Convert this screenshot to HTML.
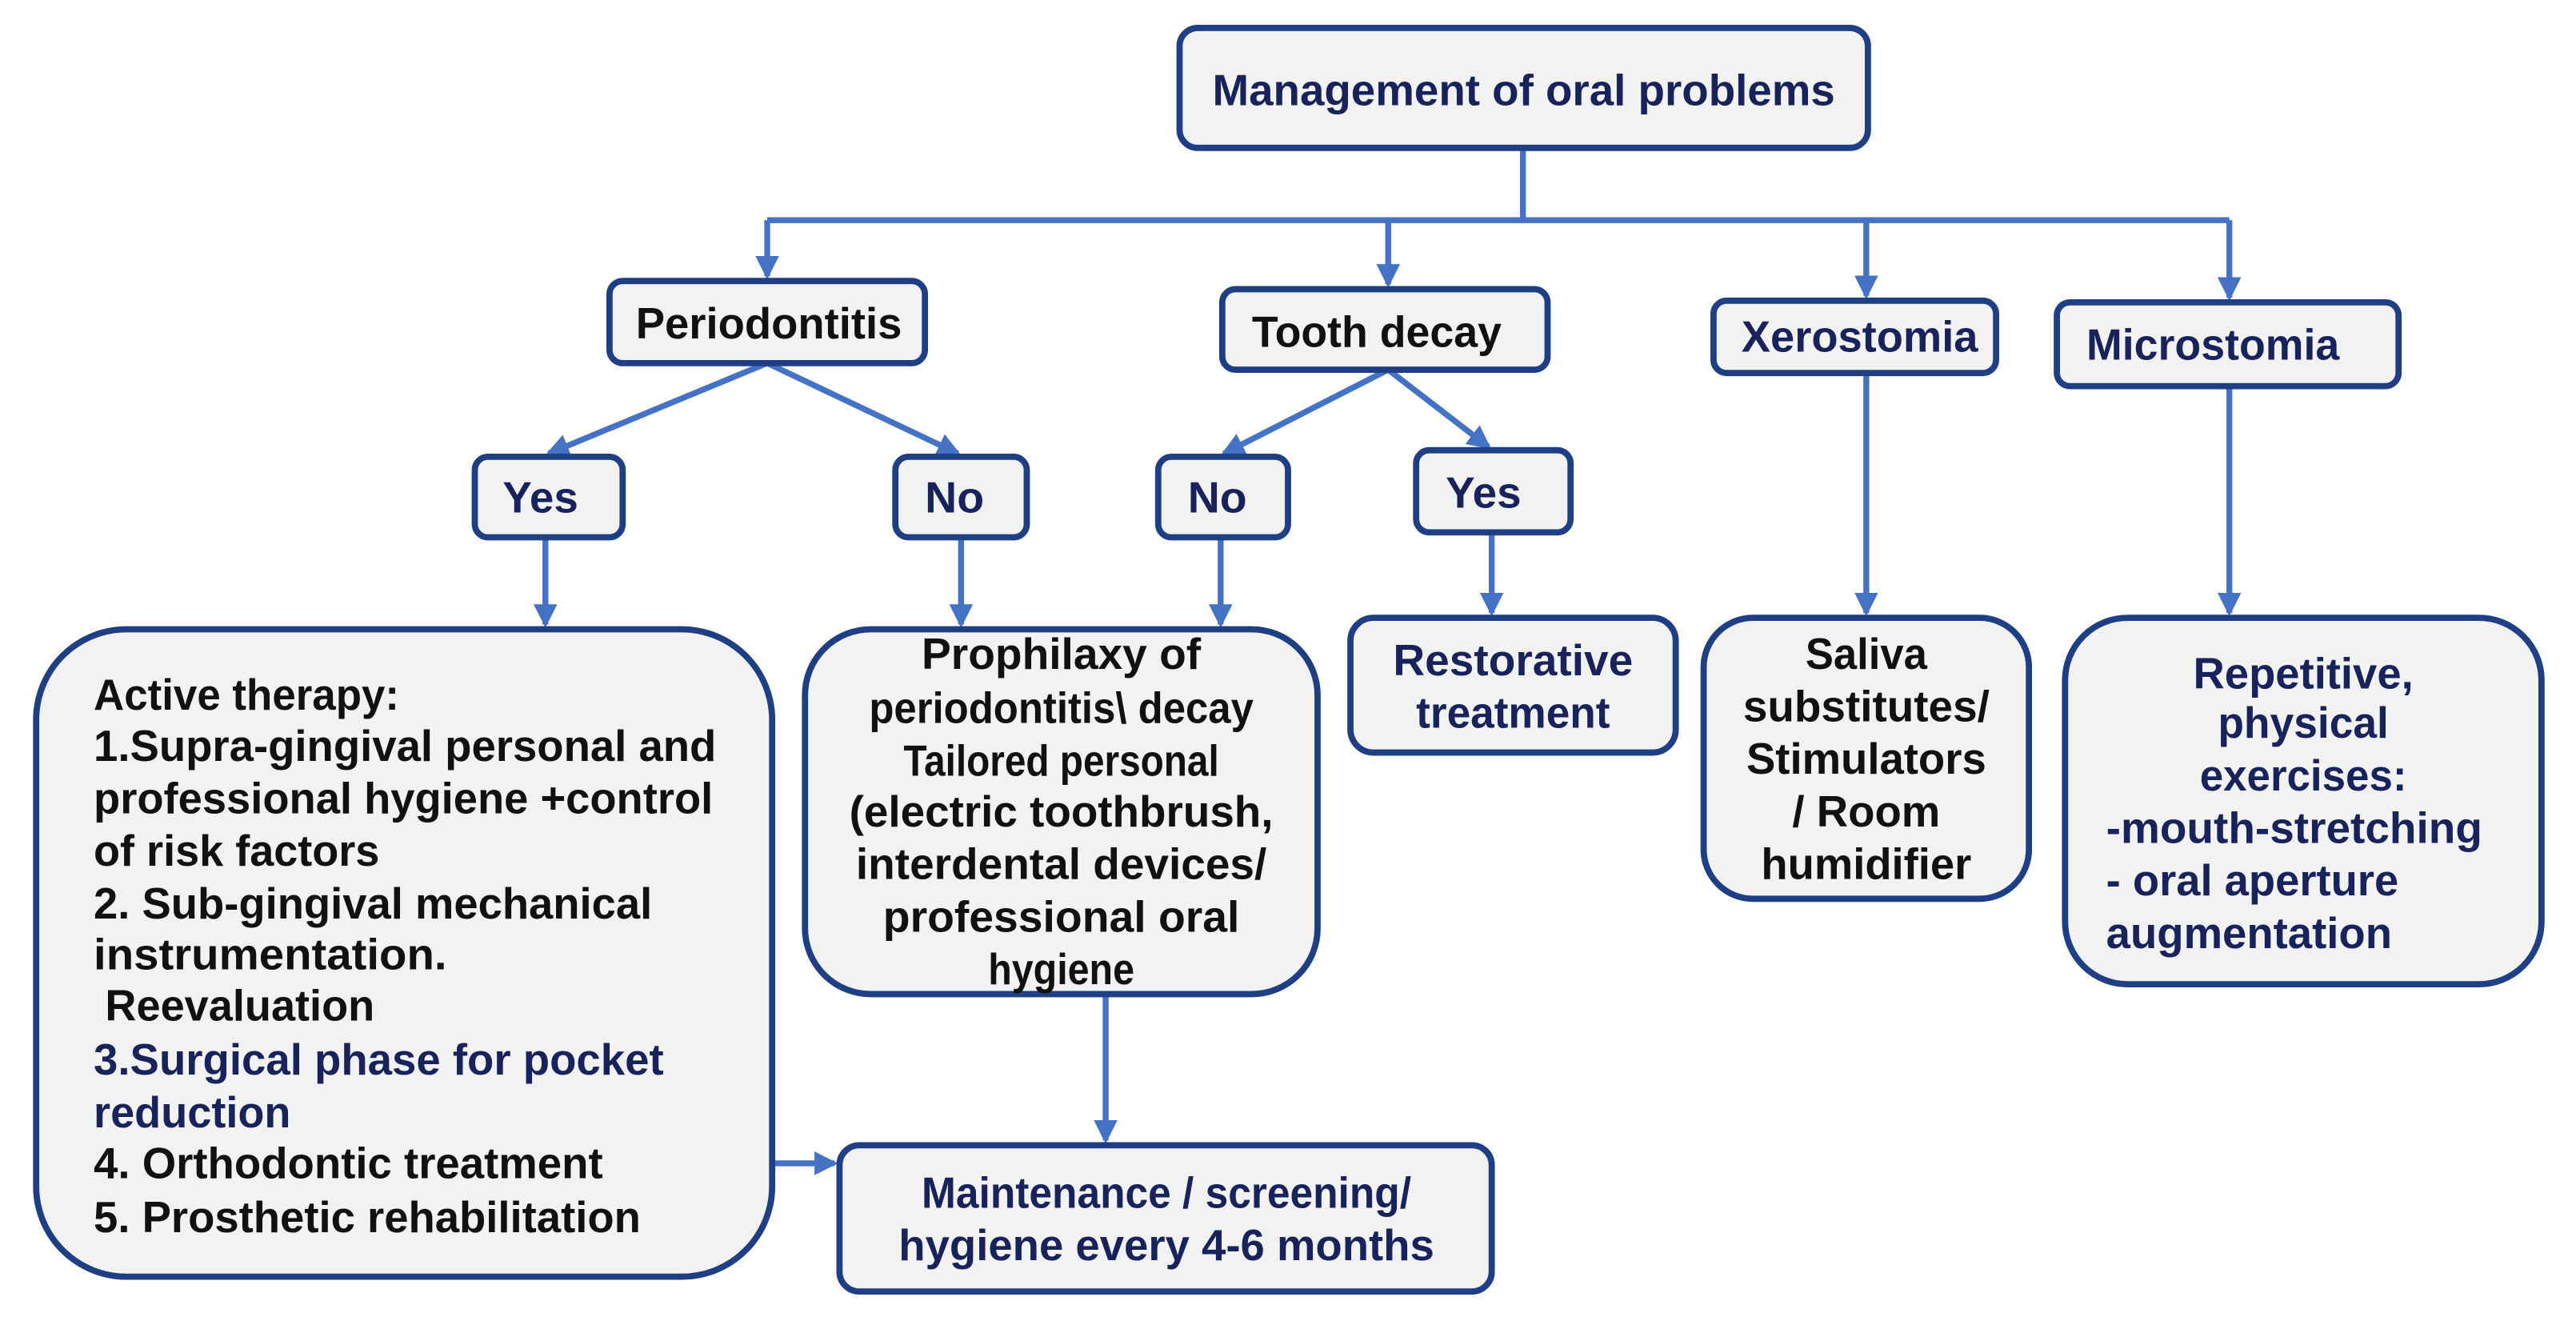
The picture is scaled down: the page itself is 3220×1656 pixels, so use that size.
<!DOCTYPE html>
<html><head><meta charset="utf-8"><style>
html,body{margin:0;padding:0;background:#fff;width:3220px;height:1656px;overflow:hidden}
svg{display:block}
text{font-family:"Liberation Sans",Arial,sans-serif;font-weight:bold;font-size:26.5px}
.n{fill:#17235a}.k{fill:#111}
.b{fill:#f2f2f2;stroke:#1f3f85;stroke-width:3.8}
.l{stroke:#4472c4;stroke-width:3.6;fill:none}
</style></head><body>
<svg width="3220" height="1656" viewBox="0 0 1568 806.4" preserveAspectRatio="none">
<defs><marker id="a" markerWidth="4" markerHeight="4" refX="3.4" refY="2" orient="auto" markerUnits="strokeWidth"><path d="M0,0 L4,2 L0,4 z" fill="#4472c4"/></marker></defs>
<path class="l" d="M927,90 V134 M467,134 H1357"/>
<path class="l" marker-end="url(#a)" d="M467,134 V168"/>
<path class="l" marker-end="url(#a)" d="M845,134 V173"/>
<path class="l" marker-end="url(#a)" d="M1136,134 V180"/>
<path class="l" marker-end="url(#a)" d="M1357,134 V181"/>
<path class="l" marker-end="url(#a)" d="M467,221 L334,276"/>
<path class="l" marker-end="url(#a)" d="M467,221 L583,276"/>
<path class="l" marker-end="url(#a)" d="M845,225 L745,276"/>
<path class="l" marker-end="url(#a)" d="M845,225 L906,272"/>
<path class="l" marker-end="url(#a)" d="M332,327 V380"/>
<path class="l" marker-end="url(#a)" d="M585,327 V380"/>
<path class="l" marker-end="url(#a)" d="M743,327 V380"/>
<path class="l" marker-end="url(#a)" d="M908,324 V373"/>
<path class="l" marker-end="url(#a)" d="M1136,227 V373"/>
<path class="l" marker-end="url(#a)" d="M1357,235 V373"/>
<path class="l" marker-end="url(#a)" d="M673,605 V694"/>
<path class="l" marker-end="url(#a)" d="M470,708 H508"/>
<rect class="b" x="718" y="17" width="419" height="73" rx="11"/>
<rect class="b" x="371" y="171" width="192" height="50" rx="8"/>
<rect class="b" x="744" y="176" width="198" height="49" rx="8"/>
<rect class="b" x="1043" y="183" width="172" height="44" rx="8"/>
<rect class="b" x="1252" y="184" width="208" height="51" rx="8"/>
<rect class="b" x="289" y="278" width="90" height="49" rx="8"/>
<rect class="b" x="545" y="278" width="80" height="49" rx="8"/>
<rect class="b" x="705" y="278" width="79" height="49" rx="8"/>
<rect class="b" x="862" y="274" width="94" height="50" rx="8"/>
<rect class="b" x="22" y="383" width="448" height="394" rx="55"/>
<rect class="b" x="490" y="383" width="312" height="222" rx="40"/>
<rect class="b" x="822" y="376" width="198" height="82" rx="14"/>
<rect class="b" x="1037" y="376" width="198" height="171" rx="30"/>
<rect class="b" x="1257" y="376" width="290" height="223" rx="38"/>
<rect class="b" x="511" y="697" width="397" height="89" rx="12"/>
<text class="n" x="738" y="64" textLength="379" lengthAdjust="spacingAndGlyphs">Management of oral problems</text>
<text class="k" x="387" y="206" textLength="162" lengthAdjust="spacingAndGlyphs">Periodontitis</text>
<text class="k" x="762" y="211" textLength="152" lengthAdjust="spacingAndGlyphs">Tooth decay</text>
<text class="n" x="1060" y="214" textLength="144" lengthAdjust="spacingAndGlyphs">Xerostomia</text>
<text class="n" x="1270" y="219" textLength="154" lengthAdjust="spacingAndGlyphs">Microstomia</text>
<text class="n" x="306" y="312" textLength="46" lengthAdjust="spacingAndGlyphs">Yes</text>
<text class="n" x="563" y="312" textLength="36" lengthAdjust="spacingAndGlyphs">No</text>
<text class="n" x="723" y="312" textLength="36" lengthAdjust="spacingAndGlyphs">No</text>
<text class="n" x="880" y="309" textLength="46" lengthAdjust="spacingAndGlyphs">Yes</text>
<g class="k">
<text x="57" y="432" textLength="186" lengthAdjust="spacingAndGlyphs">Active therapy:</text>
<text x="57" y="463" textLength="379" lengthAdjust="spacingAndGlyphs">1.Supra-gingival personal and</text>
<text x="57" y="495" textLength="377" lengthAdjust="spacingAndGlyphs">professional hygiene +control</text>
<text x="57" y="527" textLength="174" lengthAdjust="spacingAndGlyphs">of risk factors</text>
<text x="57" y="559" textLength="340" lengthAdjust="spacingAndGlyphs">2. Sub-gingival mechanical</text>
<text x="57" y="590" textLength="215" lengthAdjust="spacingAndGlyphs">instrumentation.</text>
<text x="64" y="621" textLength="164" lengthAdjust="spacingAndGlyphs">Reevaluation</text>
<text class="n" x="57" y="654" textLength="347" lengthAdjust="spacingAndGlyphs">3.Surgical phase for pocket</text>
<text class="n" x="57" y="686" textLength="120" lengthAdjust="spacingAndGlyphs">reduction</text>
<text x="57" y="717" textLength="310" lengthAdjust="spacingAndGlyphs">4. Orthodontic treatment</text>
<text x="57" y="750" textLength="333" lengthAdjust="spacingAndGlyphs">5. Prosthetic rehabilitation</text>
</g>
<g class="k" text-anchor="middle">
<text x="646" y="407" textLength="170" lengthAdjust="spacingAndGlyphs">Prophilaxy of</text>
<text x="646" y="440" textLength="234" lengthAdjust="spacingAndGlyphs">periodontitis\ decay</text>
<text x="646" y="472" textLength="192" lengthAdjust="spacingAndGlyphs">Tailored personal</text>
<text x="646" y="503" textLength="258" lengthAdjust="spacingAndGlyphs">(electric toothbrush,</text>
<text x="646" y="535" textLength="250" lengthAdjust="spacingAndGlyphs">interdental devices/</text>
<text x="646" y="567" textLength="217" lengthAdjust="spacingAndGlyphs">professional oral</text>
<text x="646" y="599" textLength="89" lengthAdjust="spacingAndGlyphs">hygiene</text>
</g>
<g class="n" text-anchor="middle">
<text x="921" y="411" textLength="146" lengthAdjust="spacingAndGlyphs">Restorative</text>
<text x="921" y="443" textLength="118" lengthAdjust="spacingAndGlyphs">treatment</text>
</g>
<g class="k" text-anchor="middle">
<text x="1136" y="407" textLength="74" lengthAdjust="spacingAndGlyphs">Saliva</text>
<text x="1136" y="439" textLength="150" lengthAdjust="spacingAndGlyphs">substitutes/</text>
<text x="1136" y="471" textLength="146" lengthAdjust="spacingAndGlyphs">Stimulators</text>
<text x="1136" y="503" textLength="90" lengthAdjust="spacingAndGlyphs">/ Room</text>
<text x="1136" y="535" textLength="128" lengthAdjust="spacingAndGlyphs">humidifier</text>
</g>
<g class="n">
<text x="1402" y="419" text-anchor="middle" textLength="134" lengthAdjust="spacingAndGlyphs">Repetitive,</text>
<text x="1402" y="449" text-anchor="middle" textLength="104" lengthAdjust="spacingAndGlyphs">physical</text>
<text x="1402" y="481" text-anchor="middle" textLength="126" lengthAdjust="spacingAndGlyphs">exercises:</text>
<text x="1282" y="513" textLength="229" lengthAdjust="spacingAndGlyphs">-mouth-stretching</text>
<text x="1282" y="545" textLength="178" lengthAdjust="spacingAndGlyphs">- oral aperture</text>
<text x="1282" y="577" textLength="174" lengthAdjust="spacingAndGlyphs">augmentation</text>
</g>
<g class="n" text-anchor="middle">
<text x="710" y="735" textLength="298" lengthAdjust="spacingAndGlyphs">Maintenance / screening/</text>
<text x="710" y="767" textLength="326" lengthAdjust="spacingAndGlyphs">hygiene every 4-6 months</text>
</g>
</svg>
</body></html>
